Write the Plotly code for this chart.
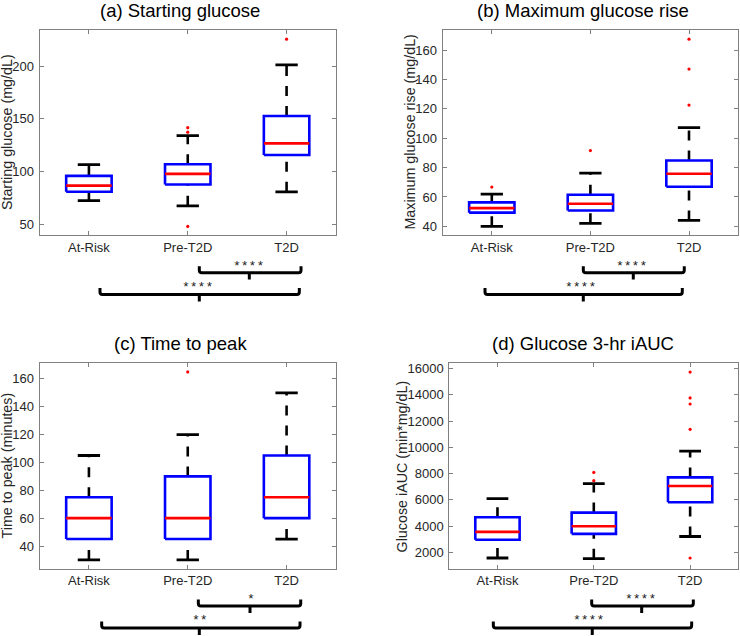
import plotly.graph_objects as go

W, H = 740, 636
FONT = "Liberation Sans, Arial, Helvetica, sans-serif"

categories = ["At-Risk", "Pre-T2D", "T2D"]

# (a) Starting glucose (mg/dL)
a_lo = [72.3, 67.3, 80.6]
a_q1 = [80.6, 87.5, 115.6]
a_med = [86.5, 97.6, 126.6]
a_q3 = [95.7, 106.7, 152.6]
a_hi = [106.4, 133.9, 201.2]
a_out = [[], [141.5, 137.2, 47.7], [225.6]]

# (b) Maximum glucose rise (mg/dL)
b_lo = [40.0, 42.0, 44.0]
b_q1 = [49.3, 50.8, 67.0]
b_med = [52.4, 55.4, 75.8]
b_q3 = [56.3, 61.5, 84.8]
b_hi = [61.9, 76.2, 107.2]
b_out = [[66.7], [91.6], [167.5, 147.1, 122.6]]

# (c) Time to peak (minutes)
c_lo = [30, 30, 45]
c_q1 = [45, 45, 60]
c_med = [60, 60, 75]
c_q3 = [75, 90, 105]
c_hi = [105, 120, 150]
c_out = [[], [165], []]

# (d) Glucose 3-hr iAUC (min*mg/dL)
d_lo = [1570, 1520, 3210]
d_q1 = [2960, 3410, 5815]
d_med = [3560, 3995, 7050]
d_q3 = [4680, 5030, 7710]
d_hi = [6100, 7230, 9710]
d_out = [[], [8090, 7460], [15730, 13760, 13300, 11370, 1570]]

titles = ["(a) Starting glucose", "(b) Maximum glucose rise",
          "(c) Time to peak", "(d) Glucose 3-hr iAUC"]
ytitles = ["Starting glucose (mg/dL)", "Maximum glucose rise (mg/dL)",
           "Time to peak (minutes)", "Glucose iAUC (min*mg/dL)"]
yticks = [[50, 100, 150, 200],
          [40, 60, 80, 100, 120, 140, 160],
          [40, 60, 80, 100, 120, 140, 160],
          [2000, 4000, 6000, 8000, 10000, 12000, 14000, 16000]]
yranges = [[39.3, 234.4], [33.9, 173.8], [23.7, 171.3], [756, 16410]]

# significance labels: (upper bracket, lower bracket)
sig_labels = [("****", "****"), ("****", "****"), ("*", "**"), ("****", "****")]

stats = [
    (a_lo, a_q1, a_med, a_q3, a_hi, a_out),
    (b_lo, b_q1, b_med, b_q3, b_hi, b_out),
    (c_lo, c_q1, c_med, c_q3, c_hi, c_out),
    (d_lo, d_q1, d_med, d_q3, d_hi, d_out),
]

# layout geometry in pixels: (left, right, top, bottom)
geom = [(39.5, 336.0, 28.0, 234.0),
        (442.5, 738.3, 28.0, 234.0),
        (39.5, 336.0, 362.3, 568.5),
        (449.3, 738.3, 362.3, 568.5)]
title_pos = [(180, 9), (582.7, 9), (180.5, 343), (582.7, 343)]
ytitle_x = [6.5, 410, 6.5, 401.5]

# bracket geometry: x in data units (left, right, centre, label), y offsets below axis (px)
brackets = [
    [(2.117, 3.146, 2.623, 2.61), (1.112, 3.129, 2.117, 2.094)],
    [(1.928, 2.952, 2.435, 2.419), (0.931, 2.932, 1.928, 1.895)],
    [(2.107, 3.143, 2.630, 2.637), (1.129, 3.136, 2.117, 2.124)],
    [(1.978, 3.033, 2.497, 2.48), (0.957, 3.016, 1.984, 1.95)],
]
br_line = [37.5, 59.5]
lbl_off = [31.0, 52.0]

BOX_HW = 0.23
CAP_HW = 0.113


def py(p):
    return 1 - p / H


def pxp(p):
    return p / W


fig = go.Figure()
shapes = []
annotations = []

for i in range(4):
    xa = "x" if i == 0 else f"x{i+1}"
    ya = "y" if i == 0 else f"y{i+1}"
    lo, q1, med, q3, hi, out = stats[i]
    for k in range(3):
        c = k + 1
        # whiskers (dashed)
        for y0, y1 in ((lo[k], q1[k]), (q3[k], hi[k])):
            fig.add_trace(go.Scatter(x=[c, c], y=[y0, y1], mode="lines",
                                     line=dict(color="black", width=2.6, dash="10px,10px"),
                                     xaxis=xa, yaxis=ya, hoverinfo="skip"))
        # caps
        for v in (lo[k], hi[k]):
            fig.add_trace(go.Scatter(x=[c - CAP_HW, c + CAP_HW], y=[v, v], mode="lines",
                                     line=dict(color="black", width=2.8),
                                     xaxis=xa, yaxis=ya, hoverinfo="skip"))
        # box
        fig.add_trace(go.Scatter(x=[c - BOX_HW, c + BOX_HW, c + BOX_HW, c - BOX_HW, c - BOX_HW],
                                 y=[q1[k], q1[k], q3[k], q3[k], q1[k]], mode="lines",
                                 line=dict(color="#0000ff", width=2.6),
                                 xaxis=xa, yaxis=ya, hoverinfo="skip"))
        # median
        fig.add_trace(go.Scatter(x=[c - BOX_HW, c + BOX_HW], y=[med[k], med[k]], mode="lines",
                                 line=dict(color="#ff0000", width=2.6),
                                 xaxis=xa, yaxis=ya, hoverinfo="skip"))
        # outliers
        if out[k]:
            fig.add_trace(go.Scatter(x=[c] * len(out[k]), y=out[k], mode="markers",
                                     marker=dict(color="#ff0000", size=3.2),
                                     xaxis=xa, yaxis=ya, hoverinfo="skip"))

    l, r, t, b = geom[i]
    axcommon = dict(showline=True, linecolor="#808080", linewidth=1, mirror="ticks",
                    ticks="inside", ticklen=4, tickcolor="#808080", showgrid=False,
                    zeroline=False, tickfont=dict(family=FONT, size=13, color="#262626"),
                    fixedrange=True)
    fig.update_layout(**{
        ("xaxis" if i == 0 else f"xaxis{i+1}"): dict(
            domain=[pxp(l), pxp(r)], range=[0.5, 3.5], tickvals=[1, 2, 3],
            ticktext=categories, anchor=ya, **axcommon),
        ("yaxis" if i == 0 else f"yaxis{i+1}"): dict(
            domain=[py(b), py(t)], range=yranges[i], tickvals=yticks[i],
            tickformat="d", anchor=xa, ticklabelstandoff=2, **axcommon),
    })

    # title
    tx, ty = title_pos[i]
    annotations.append(dict(text=titles[i], x=pxp(tx), y=py(ty), xref="paper", yref="paper",
                            xanchor="center", yanchor="middle", showarrow=False,
                            font=dict(family=FONT, size=18.5, color="black")))
    # y title
    annotations.append(dict(text=ytitles[i], x=pxp(ytitle_x[i]), y=py((t + b) / 2),
                            xref="paper", yref="paper", textangle=-90,
                            xanchor="center", yanchor="middle", showarrow=False,
                            font=dict(family=FONT, size=14.3, color="#262626")))

    # brackets
    for j, (x1, x2, xc, xt) in enumerate(brackets[i]):
        yl = py(b + br_line[j])
        ytop = py(b + br_line[j] - 6.5)
        ybot = py(b + br_line[j] + 7)
        rr = py(b + br_line[j] - 2.5)
        dx = 0.025
        path = (f"M {x1},{ytop} L {x1},{rr} Q {x1},{yl} {x1 + dx},{yl} "
                f"L {x2 - dx},{yl} Q {x2},{yl} {x2},{rr} L {x2},{ytop} "
                f"M {xc},{yl} L {xc},{ybot}")
        shapes.append(dict(type="path", path=path, xref=xa, yref="paper",
                           line=dict(color="black", width=3)))
        annotations.append(dict(text=sig_labels[i][j], x=xt, y=py(b + lbl_off[j]),
                                xref=xa, yref="paper", xanchor="center", yanchor="middle",
                                showarrow=False,
                                font=dict(family="Liberation Mono, monospace", size=13,
                                          color="#1a1a1a")))

fig.update_layout(width=W, height=H, margin=dict(l=0, r=0, t=0, b=0),
                  paper_bgcolor="white", plot_bgcolor="white", showlegend=False,
                  shapes=shapes, annotations=annotations)

fig.write_html("out.html", config={"displayModeBar": False},
               post_script="document.body.style.margin='0px';"
                           "document.body.style.overflow='hidden';")
